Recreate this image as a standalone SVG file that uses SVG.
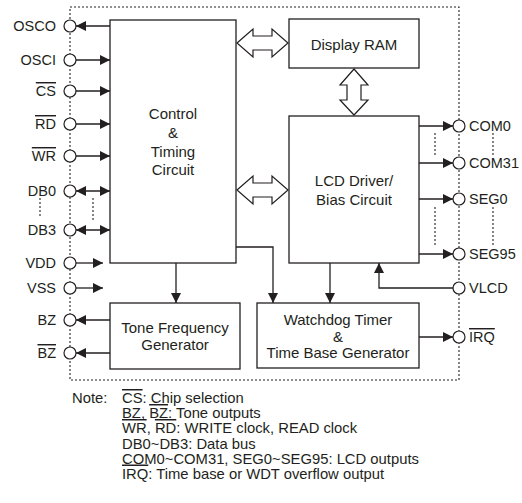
<svg xmlns="http://www.w3.org/2000/svg" width="522" height="503" viewBox="0 0 522 503">
<style>
.box{fill:#fff;stroke:#231f20;stroke-width:1.3}
.ln{fill:none;stroke:#231f20;stroke-width:1.3}
.pin{fill:#fff;stroke:#231f20;stroke-width:1.2}
.dash{fill:none;stroke:#231f20;stroke-width:1.1;stroke-dasharray:2 2}
.hol{fill:#fff;stroke:#231f20;stroke-width:1.2;stroke-linejoin:miter}
text{font-family:"Liberation Sans",Arial,sans-serif;fill:#231f20}
.bt{font-size:15px;text-anchor:middle}
.pl{font-size:14.5px;text-anchor:end}
.pr{font-size:14.5px}
.nt{font-size:14.8px}
.ov{text-decoration:overline}
</style>
<defs>
<marker id="ah" markerUnits="userSpaceOnUse" markerWidth="10" markerHeight="10" refX="10" refY="5" orient="auto-start-reverse">
<path d="M0,0 L10,5 L0,10 z" fill="#231f20"/>
</marker>
</defs>

<!-- dashed chip border -->
<g id="border">
<path class="dash" d="M70,7 H459 V380 H70 Z"/>
</g>

<!-- connectors -->
<g id="connectors">
<line class="ln" x1="110" y1="26" x2="76" y2="26" marker-end="url(#ah)"/>
<line class="ln" x1="76" y1="60" x2="110" y2="60" marker-end="url(#ah)"/>
<line class="ln" x1="76" y1="91" x2="110" y2="91" marker-end="url(#ah)"/>
<line class="ln" x1="76" y1="124" x2="110" y2="124" marker-end="url(#ah)"/>
<line class="ln" x1="76" y1="156" x2="110" y2="156" marker-end="url(#ah)"/>
<line class="ln" x1="76" y1="191" x2="110" y2="191" marker-start="url(#ah)" marker-end="url(#ah)"/>
<line class="ln" x1="76" y1="230" x2="110" y2="230" marker-start="url(#ah)" marker-end="url(#ah)"/>
<line class="ln" x1="76" y1="263" x2="103" y2="263" marker-end="url(#ah)"/>
<line class="ln" x1="76" y1="288" x2="103" y2="288" marker-end="url(#ah)"/>
<line class="ln" x1="110" y1="320" x2="76" y2="320" marker-end="url(#ah)"/>
<line class="ln" x1="110" y1="353" x2="76" y2="353" marker-end="url(#ah)"/>
<line class="dash" x1="93" y1="198" x2="93" y2="222"/>
<line class="dash" x1="40" y1="198" x2="40" y2="218"/>

<line class="ln" x1="176" y1="263" x2="176" y2="303" marker-end="url(#ah)"/>
<polyline class="ln" points="236,247 273,247 273,303" marker-end="url(#ah)"/>
<line class="ln" x1="330" y1="263" x2="330" y2="303" marker-end="url(#ah)"/>
<polyline class="ln" points="453,288 379,288 379,263" marker-end="url(#ah)"/>

<line class="ln" x1="419" y1="126" x2="453" y2="126" marker-end="url(#ah)"/>
<line class="ln" x1="419" y1="163" x2="453" y2="163" marker-end="url(#ah)"/>
<line class="ln" x1="419" y1="199" x2="453" y2="199" marker-end="url(#ah)"/>
<line class="ln" x1="419" y1="254" x2="453" y2="254" marker-end="url(#ah)"/>
<line class="ln" x1="419" y1="337" x2="453" y2="337" marker-end="url(#ah)"/>
<line class="dash" x1="435" y1="133" x2="435" y2="157"/>
<line class="dash" x1="435" y1="207" x2="435" y2="247"/>
<line class="dash" x1="493" y1="133" x2="493" y2="156"/>
<line class="dash" x1="493" y1="207" x2="493" y2="245"/>

<path class="hol" d="M237,43 L253,29 L253,36 L272,36 L272,29 L288,43 L272,57 L272,50 L253,50 L253,57 Z"/>
<path class="hol" d="M237,190 L253,176 L253,183 L272,183 L272,176 L288,190 L272,204 L272,197 L253,197 L253,204 Z"/>
<path class="hol" d="M354,69 L368,85 L361,85 L361,100 L368,100 L354,115 L340,100 L347,100 L347,85 L340,85 Z"/>
</g>

<g id="control">
<rect class="box" x="110" y="20" width="126" height="243"/>
<text class="bt" x="173" y="119">Control</text>
<text class="bt" x="173" y="138">&amp;</text>
<text class="bt" x="173" y="156.5">Timing</text>
<text class="bt" x="173" y="175">Circuit</text>
</g>
<g id="display-ram">
<rect class="box" x="289" y="19" width="130" height="49"/>
<text class="bt" x="354" y="50">Display RAM</text>
</g>
<g id="lcd-driver">
<rect class="box" x="289" y="116" width="130" height="147"/>
<text class="bt" x="354" y="186">LCD Driver/</text>
<text class="bt" x="354" y="204.5">Bias Circuit</text>
</g>
<g id="tone">
<rect class="box" x="110" y="303" width="130" height="66"/>
<text class="bt" x="175" y="333">Tone Frequency</text>
<text class="bt" x="175" y="350">Generator</text>
</g>
<g id="watchdog">
<rect class="box" x="257" y="303" width="162" height="65"/>
<text class="bt" x="338" y="325">Watchdog Timer</text>
<text class="bt" x="338" y="341.5">&amp;</text>
<text class="bt" x="338" y="357.5">Time Base Generator</text>
</g>

<!-- left pins -->
<g id="pin-osco"><circle class="pin" cx="70" cy="26" r="6"/><text class="pl" x="56" y="31">OSCO</text></g>
<g id="pin-osci"><circle class="pin" cx="70" cy="60" r="6"/><text class="pl" x="56" y="65">OSCI</text></g>
<g id="pin-cs"><circle class="pin" cx="70" cy="91" r="6"/><text class="pl" x="56" y="96"><tspan class="ov">CS</tspan></text></g>
<g id="pin-rd"><circle class="pin" cx="70" cy="124" r="6"/><text class="pl" x="56" y="129"><tspan class="ov">RD</tspan></text></g>
<g id="pin-wr"><circle class="pin" cx="70" cy="156" r="6"/><text class="pl" x="56" y="161"><tspan class="ov">WR</tspan></text></g>
<g id="pin-db0"><circle class="pin" cx="70" cy="191" r="6"/><text class="pl" x="56" y="196">DB0</text></g>
<g id="pin-db3"><circle class="pin" cx="70" cy="230" r="6"/><text class="pl" x="56" y="235">DB3</text></g>
<g id="pin-vdd"><circle class="pin" cx="70" cy="263" r="6"/><text class="pl" x="56" y="268">VDD</text></g>
<g id="pin-vss"><circle class="pin" cx="70" cy="288" r="6"/><text class="pl" x="56" y="293">VSS</text></g>
<g id="pin-bz"><circle class="pin" cx="70" cy="320" r="6"/><text class="pl" x="56" y="325">BZ</text></g>
<g id="pin-bzb"><circle class="pin" cx="70" cy="353" r="6"/><text class="pl" x="56" y="358"><tspan class="ov">BZ</tspan></text></g>

<!-- right pins -->
<g id="pin-com0"><circle class="pin" cx="459" cy="126" r="6"/><text class="pr" x="469" y="131">COM0</text></g>
<g id="pin-com31"><circle class="pin" cx="459" cy="163" r="6"/><text class="pr" x="469" y="168">COM31</text></g>
<g id="pin-seg0"><circle class="pin" cx="459" cy="199" r="6"/><text class="pr" x="469" y="204">SEG0</text></g>
<g id="pin-seg95"><circle class="pin" cx="459" cy="254" r="6"/><text class="pr" x="469" y="259">SEG95</text></g>
<g id="pin-vlcd"><circle class="pin" cx="459" cy="288" r="6"/><text class="pr" x="469" y="293">VLCD</text></g>
<g id="pin-irq"><circle class="pin" cx="459" cy="337" r="6"/><text class="pr" x="469" y="342"><tspan class="ov">IRQ</tspan></text></g>

<!-- notes -->
<g id="notes">
<text class="nt" x="72" y="403">Note:</text>
<text class="nt" x="122" y="403"><tspan class="ov">CS</tspan>: Chip selection</text>
<text class="nt" x="122" y="418">BZ, <tspan class="ov">BZ</tspan>: Tone outputs</text>
<text class="nt" x="122" y="433"><tspan class="ov">WR</tspan>, <tspan class="ov">RD</tspan>: WRITE clock, READ clock</text>
<text class="nt" x="122" y="448.5">DB0~DB3: Data bus</text>
<text class="nt" x="122" y="463.5">COM0~COM31, SEG0~SEG95: LCD outputs</text>
<text class="nt" x="122" y="478.5"><tspan class="ov">IRQ</tspan>: Time base or WDT overflow output</text>
</g>
</svg>
